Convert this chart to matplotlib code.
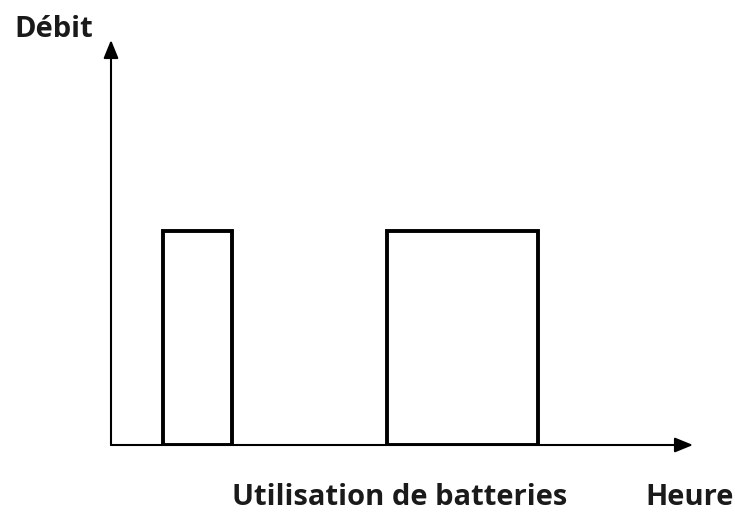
import matplotlib
matplotlib.use("Agg")
import matplotlib.pyplot as plt

# two periods of battery use (x in arbitrary hours, y = debit)
starts = [0.89, 4.74]
ends = [2.08, 7.34]
debit = [5.28, 5.28]

fig = plt.figure(figsize=(7.35, 5.12), dpi=100)
ax = fig.add_axes([111/735, (512-445)/512, (693-111)/735, (445-40)/512])
ax.set_xlim(0, 10)
ax.set_ylim(0, 10)
ax.axis("off")

widths = [e - s for s, e in zip(starts, ends)]
ax.bar(starts, debit, width=widths, align="edge", fill=False,
       edgecolor="black", linewidth=2.8, zorder=3)

# axes with arrows
arrow = dict(arrowstyle="-|>,head_length=1.1,head_width=0.45", color="black",
             lw=1.5, shrinkA=0, shrinkB=0)
ax.annotate("", xy=(10, 0), xytext=(0, 0), arrowprops=arrow, annotation_clip=False)
ax.annotate("", xy=(0, 10), xytext=(0, 0), arrowprops=arrow, annotation_clip=False)

font = dict(family="Open Sans", weight="bold", color="#1a1a1a")
fig.text(14/735, 1 - 37/512, "Débit", fontsize=21, ha="left", va="baseline", **font)
fig.text(232/735, 1 - 505/512, "Utilisation de batteries", fontsize=21,
         ha="left", va="baseline", **font)
fig.text(645/735, 1 - 505/512, "Heure", fontsize=21, ha="left", va="baseline", **font)

fig.savefig("out.png", dpi=100)
